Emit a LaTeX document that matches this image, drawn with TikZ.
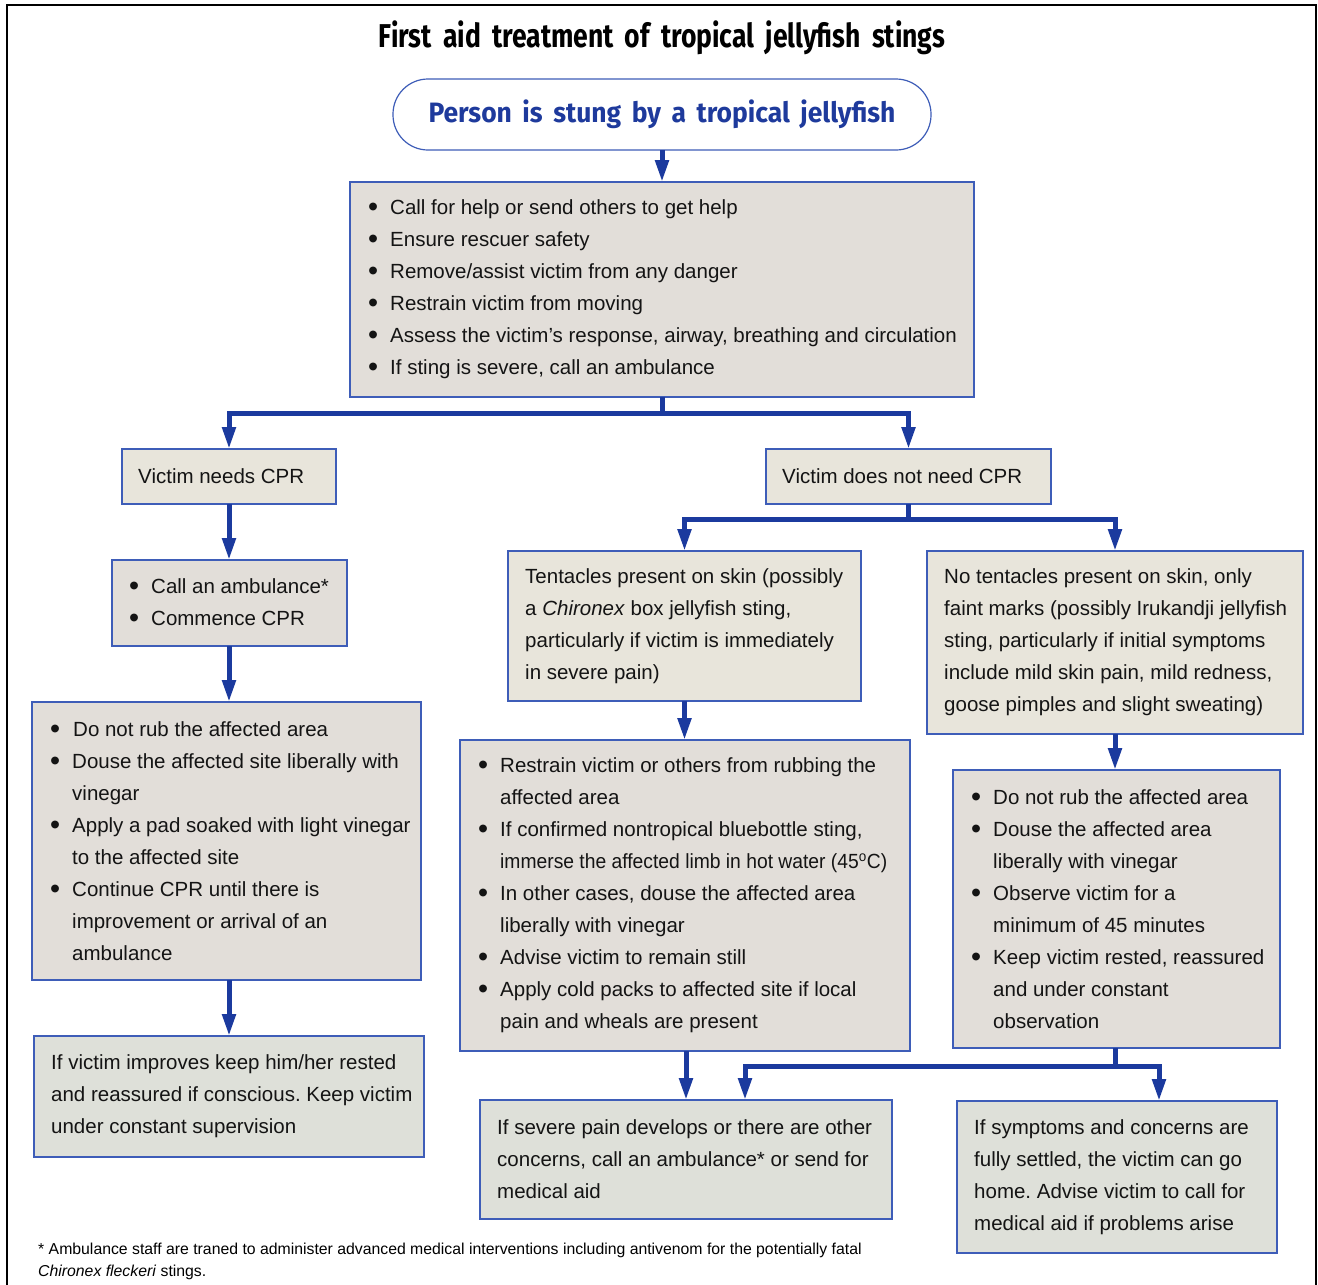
\documentclass[tikz,border=0pt]{standalone}
\usepackage{fontspec}
\usepackage{graphicx}
\setmainfont{Liberation Sans}
\newfontfamily\titlefont{Fira Sans}
\usetikzlibrary{arrows.meta,positioning,calc}
\definecolor{arrowblue}{HTML}{1B3A9E}
\definecolor{borderblue}{HTML}{3E5DB8}
\definecolor{greybox}{HTML}{E2DED9}
\definecolor{beigebox}{HTML}{E8E5DB}
\definecolor{greenbox}{HTML}{DEE0D9}
\definecolor{titleblue}{HTML}{1E3A9C}
\newlength{\bh}
\setlength{\bh}{22pt}
\newcommand\bu{\makebox[\bh][l]{\raisebox{-1.8pt}{\scalebox{1.4}{\textbullet}}}}
\newcommand\cn{\hspace*{\bh}}
\frenchspacing
\tikzset{
  boxbase/.style={draw=borderblue, line width=1.2pt, outer sep=0pt, inner sep=0pt, anchor=north west},
  gbox/.style={boxbase, fill=greybox},
  bbox/.style={boxbase, fill=beigebox},
  nbox/.style={boxbase, fill=greenbox},
  txt/.style={anchor=west, align=left, inner sep=0pt, text=black!92, font=\fontsize{20.5}{32}\selectfont\frenchspacing},
  conn/.style={draw=arrowblue, line width=5pt, -{Triangle[width=13pt,length=22pt]}},
  plain/.style={draw=arrowblue, line width=5pt}
}
\begin{document}
\begin{tikzpicture}[x=1pt,y=-1pt]
\useasboundingbox (0,0) rectangle (1318,1285);
\fill[white] (0,0) rectangle (1318,1285);
\draw[line width=2pt, black] (7,1285) -- (7,5) -- (1316,5) -- (1316,1285);

% titles
\node[inner sep=0pt] (title) at (662,38) {\resizebox{566pt}{\height}{\titlefont\bfseries\fontsize{33}{33}\selectfont\spaceskip=0.42em First aid treatment of tropical jellyfish stings}};
\node[draw=borderblue, line width=1.2pt, rounded corners=35pt, minimum width=538pt, minimum height=71pt, outer sep=0pt, fill=white] (start) at (662,114.5) {};
\node[inner sep=0pt, text=titleblue] (startt) at (662,114) {\resizebox{467pt}{\height}{\titlefont\bfseries\fontsize{28}{28}\selectfont\spaceskip=0.4em Person is stung by a tropical jellyfish}};

% boxes
\node[gbox, minimum width=624pt, minimum height=215pt] (b1) at (350,182) {};
\node[txt] (b1t) at ([xshift=18pt]b1.west) {\bu Call for help or send others to get help\\
\bu Ensure rescuer safety\\
\bu Remove/assist victim from any danger\\
\bu Restrain victim from moving\\
\bu Assess the victim’s response, airway, breathing and circulation\\
\bu If sting is severe, call an ambulance};

\node[bbox, minimum width=214pt, minimum height=55pt] (cpr) at (122,449) {};
\node[txt] (cprt) at ([xshift=16pt]cpr.west) {Victim needs CPR};

\node[bbox, minimum width=285pt, minimum height=55pt] (nocpr) at (766,449) {};
\node[txt] (nocprt) at ([xshift=16pt]nocpr.west) {Victim does not need CPR};

\node[gbox, minimum width=235pt, minimum height=86pt] (amb) at (112,560) {};
\node[txt] (ambt) at ([xshift=17pt]amb.west) {\bu Call an ambulance*\\
\bu Commence CPR};

\node[gbox, minimum width=389pt, minimum height=278pt] (l3) at (32,702) {};
\node[txt] (l3t) at ([xshift=18pt]l3.west) {\setlength{\bh}{23pt}\bu Do not rub the affected area\\
\bu Douse the affected site liberally with\\
\cn vinegar\\
\bu Apply a pad soaked with light vinegar\\
\cn to the affected site\\
\bu Continue CPR until there is\\
\cn improvement or arrival of an\\
\cn ambulance};

\node[nbox, minimum width=390pt, minimum height=121pt] (l4) at (34,1036) {};
\node[txt] (l4t) at ([xshift=17pt]l4.west) {If victim improves keep him/her rested\\
and reassured if conscious. Keep victim\\
under constant supervision};

\node[bbox, minimum width=353pt, minimum height=150pt] (tent) at (508,551) {};
\node[txt] (tentt) at ([xshift=17pt]tent.west) {Tentacles present on skin (possibly\\
a \textit{Chironex} box jellyfish sting,\\
particularly if victim is immediately\\
in severe pain)};

\node[bbox, minimum width=376pt, minimum height=183pt] (notent) at (927,551) {};
\node[txt] (notentt) at ([xshift=17pt]notent.west) {No tentacles present on skin, only\\
faint marks (possibly Irukandji jellyfish\\
sting, particularly if initial symptoms\\
include mild skin pain, mild redness,\\
goose pimples and slight sweating)};

\node[gbox, minimum width=450pt, minimum height=311pt] (m3) at (460,740) {};
\node[txt] (m3t) at ([xshift=18pt]m3.west) {\bu Restrain victim or others from rubbing the\\
\cn affected area\\
\bu If confirmed nontropical bluebottle sting,\\
\cn \resizebox{387pt}{\height}{immerse the affected limb in hot water (45\textsuperscript{o}C)}\\
\bu In other cases, douse the affected area\\
\cn liberally with vinegar\\
\bu Advise victim to remain still\\
\bu Apply cold packs to affected site if local\\
\cn pain and wheals are present};

\node[gbox, minimum width=327pt, minimum height=278pt] (r3) at (953,770) {};
\node[txt] (r3t) at ([xshift=18pt]r3.west) {\bu Do not rub the affected area\\
\bu Douse the affected area\\
\cn liberally with vinegar\\
\bu Observe victim for a\\
\cn minimum of 45 minutes\\
\bu Keep victim rested, reassured\\
\cn and under constant\\
\cn observation};

\node[nbox, minimum width=412pt, minimum height=119pt] (m4) at (480,1100) {};
\node[txt] (m4t) at ([xshift=17pt]m4.west) {If severe pain develops or there are other\\
concerns, call an ambulance* or send for\\
medical aid};

\node[nbox, minimum width=320pt, minimum height=152pt] (r4) at (957,1101) {};
\node[txt] (r4t) at ([xshift=17pt]r4.west) {If symptoms and concerns are\\
fully settled, the victim can go\\
home. Advise victim to call for\\
medical aid if problems arise};

% footnote
\node[anchor=north west, align=left, inner sep=0pt, font=\fontsize{15.8}{22}\selectfont\frenchspacing] (foot) at (38,1243) {* Ambulance staff are traned to administer advanced medical interventions including antivenom for the potentially fatal\\
\textit{Chironex fleckeri} stings.};

% connectors
\draw[conn] (start.south) -- (b1.north);
\draw[conn] (b1.south) -- ++(0,16) -| (cpr.north);
\draw[conn] (b1.south) -- ++(0,16) -| (nocpr.north);
\draw[conn] (cpr.south) -- (amb.north -| cpr.south);
\draw[conn] (amb.south -| cpr.south) -- (l3.north -| cpr.south);
\draw[conn] (l3.south -| l4.north) -- (l4.north);
\draw[conn] (nocpr.south) -- ++(0,15) -| (tent.north);
\draw[conn] (nocpr.south) -- ++(0,15) -| (notent.north);
\draw[conn] (tent.south) -- (m3.north -| tent.south);
\draw[conn] (notent.south) -- (r3.north -| notent.south);
\draw[conn] (m3.south -| m4.north) -- (m4.north);
\draw[conn] (r3.south -| notent.south) -- ++(0,18) -| ([xshift=59pt]m4.north);
\draw[conn] (r3.south -| notent.south) -- ++(0,18) -| ([xshift=42pt]r4.north);
\end{tikzpicture}
\end{document}
